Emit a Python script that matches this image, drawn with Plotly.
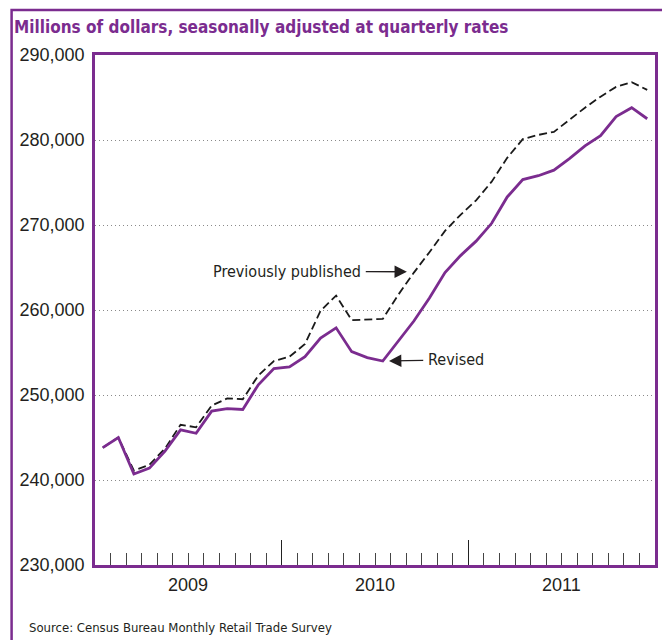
import plotly.graph_objects as go

# ---- data (monthly, Jan 2009 - Dec 2011) ----
years = ["2009", "2010", "2011"]
months_per_year = 12
revised = [243800, 245000, 240700, 241400, 243400, 245900, 245500, 248100, 248400, 248300,
           251200, 253100, 253300, 254500, 256700, 257900, 255100, 254400, 254000, 256400,
           258700, 261400, 264400, 266400, 268100, 270200, 273300, 275350, 275800, 276450,
           277800, 279300, 280500, 282750, 283800, 282500]
previous = [243800, 245000, 241100, 241800, 243700, 246500, 246200, 248750, 249600, 249500,
            252300, 254000, 254500, 256000, 259900, 261700, 258800, 258900, 258950, 261800,
            264400, 266800, 269300, 271200, 272900, 275100, 277900, 280100, 280600, 280950,
            282400, 283800, 285100, 286250, 286800, 285900]
y_ticks = [230000, 240000, 250000, 260000, 270000, 280000, 290000]
title_text = "Millions of dollars, seasonally adjusted at quarterly rates"
source_text = "Source: Census Bureau Monthly Retail Trade Survey"

PURPLE = "#7B2C8F"
TEXT = "#231F20"
NARROW = "Liberation Sans Narrow, Arial Narrow, DejaVu Sans Condensed, Arial, sans-serif"
REG = "Liberation Sans, Arial, sans-serif"

# figure geometry (page has an 8px body margin)
W, H = 662, 632
L, R, T, B = 85, 15, 47, 75
PW, PH = W - L - R, H - T - B

n = len(revised)
x = list(range(n))

fig = go.Figure()
fig.add_trace(go.Scatter(x=x, y=previous, mode="lines", name="Previously published",
                         line=dict(color="#1a1a1a", width=1.8, dash="8px,4px")))
fig.add_trace(go.Scatter(x=x, y=revised, mode="lines", name="Revised",
                         line=dict(color=PURPLE, width=2.8)))

year_bounds = [months_per_year * (i + 1) - 0.5 for i in range(len(years) - 1)]
year_centers = [months_per_year * i + (months_per_year - 1) / 2 for i in range(len(years))]

fig.update_xaxes(
    range=[-0.5, n - 0.5], showgrid=False, zeroline=False,
    showline=True, mirror=True, linecolor=PURPLE, linewidth=2.5,
    ticks="inside", tickvals=year_bounds, ticktext=["" for _ in year_bounds],
    ticklen=25, tickwidth=1, tickcolor="#222222",
    minor=dict(ticks="inside", tick0=-0.5, dtick=1, ticklen=12, tickwidth=1,
               tickcolor="#444444", showgrid=False),
)
fig.update_yaxes(
    range=[y_ticks[0], y_ticks[-1]], tickvals=y_ticks,
    ticktext=[f"{v:,}" for v in y_ticks],
    showgrid=True, gridcolor="#8a8a8a", gridwidth=1, griddash="1px,3px",
    zeroline=False, showline=True, mirror=True, linecolor=PURPLE, linewidth=2.5,
    ticks="", ticklabelstandoff=4,
    tickfont=dict(family=REG, size=18, color=TEXT),
)

annotations = []
for yr, c in zip(years, year_centers):
    annotations.append(dict(x=c, y=0, xref="x", yref="paper", text=yr, showarrow=False,
                            yanchor="middle", yshift=-20,
                            font=dict(family=REG, size=18, color=TEXT)))
annotations.append(dict(x=19.55, y=264500, xref="x", yref="y",
                        ax=11.86, ay=264550, axref="x", ayref="y",
                        text="Previously published", showarrow=True, borderpad=4,
                        arrowhead=2, arrowsize=1.9, arrowwidth=1.3, arrowcolor=TEXT,
                        font=dict(family=NARROW, size=16, color=TEXT)))
annotations.append(dict(x=18.4, y=254000, xref="x", yref="y",
                        ax=22.69, ay=254150, axref="x", ayref="y",
                        text="Revised", showarrow=True, borderpad=4,
                        arrowhead=2, arrowsize=1.9, arrowwidth=1.3, arrowcolor=TEXT,
                        font=dict(family=NARROW, size=16, color=TEXT)))
annotations.append(dict(x=(17 - L) / PW, y=(H - B - 619) / PH, xref="paper", yref="paper",
                        text=source_text, showarrow=False, xanchor="left", yanchor="middle",
                        font=dict(family=NARROW, size=13, color=TEXT)))

fig.update_layout(
    width=W, height=H,
    margin=dict(l=L, r=R, t=T, b=B),
    paper_bgcolor="white", plot_bgcolor="white",
    showlegend=False,
    title=dict(text="<b>" + title_text + "</b>", xref="container", yref="container",
               x=6 / W, xanchor="left", y=1 - 19 / H, yanchor="middle",
               font=dict(family=NARROW, size=17, color=PURPLE)),
    annotations=annotations,
    shapes=[dict(type="rect", xref="paper", yref="paper",
                 x0=(1.3 - L) / PW, x1=(659 - L) / PW,
                 y0=(H - B - 660) / PH, y1=(H - B - 2) / PH,
                 line=dict(color=PURPLE, width=2.5), layer="above")],
)

fig.write_html("out.html")
